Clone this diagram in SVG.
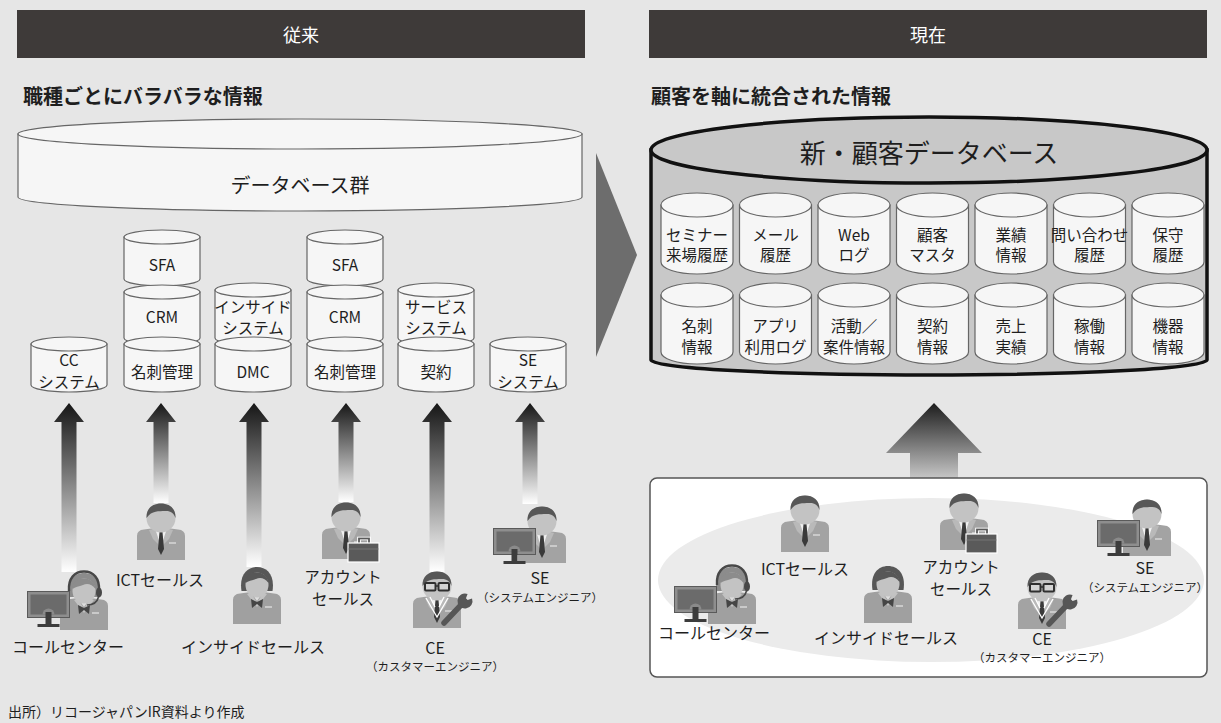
<svg xmlns="http://www.w3.org/2000/svg" width="1221" height="723" viewBox="0 0 1221 723">
  <style>
    text { font-family: "Noto Sans CJK JP", "Noto Sans CJK SC", sans-serif; fill: #1e1e1e; }
    .hdr { font-size: 18px; fill: #ffffff; text-anchor: middle; }
    .sub { font-size: 20px; font-weight: 600; }
    .lbl { font-size: 16px; text-anchor: middle; }
    .lbl2 { font-size: 15.5px; text-anchor: middle; }
    .note { font-size: 11.5px; text-anchor: middle; }
    .ct { font-size: 15.5px; text-anchor: middle; }
    .cyl { fill: #f6f6f6; stroke: #666666; stroke-width: 1.2; }
    .big { fill: #c8c8c8; stroke: #111111; stroke-width: 3.5; }
    .up { fill: url(#fadeUp); }
  </style>
  <defs>
    <linearGradient id="fadeUp" x1="0" y1="0" x2="0" y2="1">
      <stop offset="0" stop-color="#161616"/>
      <stop offset="1" stop-color="#ffffff"/>
    </linearGradient>
    <linearGradient id="bigUp" x1="0" y1="0" x2="0" y2="1">
      <stop offset="0" stop-color="#1c1c1c"/>
      <stop offset="1" stop-color="#c6c6c6"/>
    </linearGradient>

    <!-- businessman: 48 x 57, head top at y=0 -->
    <g id="man">
      <path d="M0,57 V33 Q0,27 7,26.5 L18,25 L24,29 L30,25 L41,26.5 Q48,27 48,33 V57 Z" fill="#a3a3a3"/>
      <polygon points="12,27 18,25.5 24,44 16,36" fill="#b9b9b9"/>
      <polygon points="36,27 30,25.5 24,44 32,36" fill="#b9b9b9"/>
      <polygon points="18,25.5 30,25.5 24,44" fill="#f0f0f0"/>
      <polygon points="22.5,29 25.5,29 27,46 24,52 21,46" fill="#3a3a3a"/>
      <rect x="32" y="39" width="7" height="2" fill="#cacaca"/>
      <circle cx="24" cy="15" r="14.5" fill="#c3c3c3"/>
      <path d="M9.5,15 C9,5 16,0.5 24,0.5 C32,0.5 39,5 38.5,15 C37,10 33,7.5 28,8 C22,8.5 15,7 9.5,15 Z" fill="#575757"/>
    </g>

    <!-- businesswoman: 48 x 57, hair colour from currentColor -->
    <g id="woman">
      <path d="M8.5,24 C6,8 14,0 24,0 C34,0 42,8 39.5,24 Z" fill="currentColor"/>
      <path d="M0,57 V33 Q0,27 7,26.5 L18,25 L24,29 L30,25 L41,26.5 Q48,27 48,33 V57 Z" fill="#a0a0a0"/>
      <polygon points="14,27 18,25.5 24,36 30,25.5 34,27 24,40" fill="#c2c2c2"/>
      <polygon points="18,25.5 30,25.5 24,34" fill="#dedede"/>
      <path d="M18,32 L24,35 L30,32 L29,41 L24,37 L19,41 Z" fill="#454545"/>
      <rect x="32" y="39" width="7" height="2" fill="#cacaca"/>
      <ellipse cx="24" cy="18" rx="11.5" ry="12.5" fill="#c3c3c3"/>
      <path d="M12.5,16 C13,7 19,5 25,5.5 C31,6 35,10 35.5,16 C32,11 27,10 23,12 C19,13.5 15,14 12.5,16 Z" fill="currentColor"/>
    </g>

    <g id="headset" fill="none" stroke="#484848">
      <path d="M9,18 C8,5 15,-1.5 24,-1.5 C33,-1.5 40,5 39,18" stroke-width="2.4"/>
      <ellipse cx="39" cy="19.5" rx="3" ry="5" fill="#484848" stroke="none"/>
      <path d="M38.5,24 C37,30 32,32 27,32" stroke-width="1.6"/>
    </g>

    <g id="glasses" fill="#d4d4d4" stroke="#2f2f2f">
      <rect x="12" y="12" width="10.5" height="7.5" rx="1" stroke-width="2"/>
      <rect x="25.5" y="12" width="10.5" height="7.5" rx="1" stroke-width="2"/>
      <line x1="22.5" y1="15" x2="25.5" y2="15" stroke-width="1.5"/>
    </g>

    <path id="coat" d="M13,27 L24,46 L35,27 M17,26 L22,36 M31,26 L26,36" fill="none" stroke="#ffffff" stroke-width="1.3"/>

    <g id="wrench" fill="#565656">
      <line x1="48" y1="34" x2="31" y2="52" stroke="#565656" stroke-width="5.5" stroke-linecap="round"/>
      <path d="M59.05,27.43 A7.5,7.5 0 1 1 54.57,22.95 L52.96,27.37 L54.63,29.04 Z"/>
    </g>

    <g id="case">
      <rect x="37" y="36.5" width="10" height="6" fill="none" stroke="#ffffff" stroke-width="3.6"/>
      <rect x="37" y="36.5" width="10" height="6" fill="none" stroke="#5a5a5a" stroke-width="1.8"/>
      <rect x="26" y="41" width="31" height="19" fill="#5a5a5a" stroke="#ffffff" stroke-width="1.2"/>
      <line x1="26.6" y1="47" x2="56.4" y2="47" stroke="#747474" stroke-width="1"/>
    </g>

    <!-- desktop monitor: 43 x 36 -->
    <g id="monitor">
      <rect x="0.5" y="0.5" width="42" height="26" fill="#8e8e8e" stroke="#5a5a5a"/>
      <rect x="3.5" y="3.5" width="36" height="20" fill="#6b6b6b"/>
      <path d="M15.5,23.5 A6,6 0 0 1 27.5,23.5 Z" fill="#8a8a8a"/>
      <rect x="18.5" y="21" width="6" height="13" fill="#3c3c3c"/>
      <rect x="10.5" y="33" width="22" height="3" fill="#3c3c3c"/>
    </g>
  </defs>

  <!-- page -->
  <rect x="0" y="0" width="1221" height="723" fill="#e6e6e6"/>

  <!-- section headers -->
  <g id="header-before">
    <rect x="17" y="10" width="568" height="48" fill="#3e3a39"/>
    <text class="hdr" x="301" y="42">従来</text>
  </g>
  <g id="header-now">
    <rect x="649" y="10" width="558" height="48" fill="#3e3a39"/>
    <text class="hdr" x="928" y="42">現在</text>
  </g>
  <text class="sub" x="23" y="104">職種ごとにバラバラな情報</text>
  <text class="sub" x="651" y="104">顧客を軸に統合された情報</text>

  <!-- database group (before) -->
  <g id="db-group">
    <path class="cyl" d="M18,134 V197 A282,14 0 0 0 582,197 V134 Z" stroke="#777"/>
    <ellipse class="cyl" cx="300" cy="134" rx="282" ry="15" stroke="#777"/>
    <text x="300" y="193" font-size="20" text-anchor="middle">データベース群</text>
  </g>

  <!-- per-role databases -->
  <g id="db-cc">
    <path class="cyl" d="M31,344 V385 A38,7 0 0 0 107,385 V344 Z"/>
    <ellipse class="cyl" cx="69" cy="344" rx="38" ry="7"/>
    <text class="ct" x="69" y="366">CC</text>
    <text class="ct" x="69" y="388">システム</text>
  </g>
  <g id="db-ict">
    <path class="cyl" d="M124,237 V279 A38,7 0 0 0 200,279 V237 Z"/>
    <ellipse class="cyl" cx="162" cy="237" rx="38" ry="7"/>
    <text class="ct" x="162" y="271">SFA</text>
    <path class="cyl" d="M124,292 V338 A38,7 0 0 0 200,338 V292 Z"/>
    <ellipse class="cyl" cx="162" cy="292" rx="38" ry="7"/>
    <text class="ct" x="162" y="323">CRM</text>
    <path class="cyl" d="M124,344 V385 A38,7 0 0 0 200,385 V344 Z"/>
    <ellipse class="cyl" cx="162" cy="344" rx="38" ry="7"/>
    <text class="ct" x="162" y="378">名刺管理</text>
  </g>
  <g id="db-inside">
    <path class="cyl" d="M215,290 V338 A38,7 0 0 0 291,338 V290 Z"/>
    <ellipse class="cyl" cx="253" cy="290" rx="38" ry="7"/>
    <text class="ct" x="253" y="313">インサイド</text>
    <text class="ct" x="253" y="334">システム</text>
    <path class="cyl" d="M215,344 V385 A38,7 0 0 0 291,385 V344 Z"/>
    <ellipse class="cyl" cx="253" cy="344" rx="38" ry="7"/>
    <text class="ct" x="253" y="378">DMC</text>
  </g>
  <g id="db-account">
    <path class="cyl" d="M307,237 V279 A38,7 0 0 0 383,279 V237 Z"/>
    <ellipse class="cyl" cx="345" cy="237" rx="38" ry="7"/>
    <text class="ct" x="345" y="271">SFA</text>
    <path class="cyl" d="M307,292 V338 A38,7 0 0 0 383,338 V292 Z"/>
    <ellipse class="cyl" cx="345" cy="292" rx="38" ry="7"/>
    <text class="ct" x="345" y="323">CRM</text>
    <path class="cyl" d="M307,344 V385 A38,7 0 0 0 383,385 V344 Z"/>
    <ellipse class="cyl" cx="345" cy="344" rx="38" ry="7"/>
    <text class="ct" x="345" y="378">名刺管理</text>
  </g>
  <g id="db-ce">
    <path class="cyl" d="M398,290 V338 A38,7 0 0 0 474,338 V290 Z"/>
    <ellipse class="cyl" cx="436" cy="290" rx="38" ry="7"/>
    <text class="ct" x="436" y="313">サービス</text>
    <text class="ct" x="436" y="334">システム</text>
    <path class="cyl" d="M398,344 V385 A38,7 0 0 0 474,385 V344 Z"/>
    <ellipse class="cyl" cx="436" cy="344" rx="38" ry="7"/>
    <text class="ct" x="436" y="378">契約</text>
  </g>
  <g id="db-se">
    <path class="cyl" d="M490,344 V385 A38,7 0 0 0 566,385 V344 Z"/>
    <ellipse class="cyl" cx="528" cy="344" rx="38" ry="7"/>
    <text class="ct" x="528" y="366">SE</text>
    <text class="ct" x="528" y="388">システム</text>
  </g>

  <!-- upward flows from each role -->
  <g id="connectors">
    <polygon class="up" points="69,403 84,422 76.5,422 76.5,572 61.5,572 61.5,422 54,422"/>
    <polygon class="up" points="161,403 176,422 168.5,422 168.5,503 153.5,503 153.5,422 146,422"/>
    <polygon class="up" points="254,403 269,422 261.5,422 261.5,567 246.5,567 246.5,422 239,422"/>
    <polygon class="up" points="346,403 361,422 353.5,422 353.5,502 338.5,502 338.5,422 331,422"/>
    <polygon class="up" points="437,403 452,422 444.5,422 444.5,572 429.5,572 429.5,422 422,422"/>
    <polygon class="up" points="530,403 545,422 537.5,422 537.5,504 522.5,504 522.5,422 515,422"/>
    <polygon points="934,403 982,453 958,453 958,478 910,478 910,453 886,453" fill="url(#bigUp)"/>
    <polygon points="596,153 637,255 596,357" fill="#6d6d6d"/>
  </g>

  <!-- roles (before) -->
  <g id="role-cc-before">
    <use href="#woman" x="60" y="573" color="#8c8c8c"/>
    <use href="#headset" x="60" y="573"/>
    <use href="#monitor" x="27" y="591"/>
    <text class="lbl" x="68" y="653">コールセンター</text>
  </g>
  <g id="role-ict-before">
    <use href="#man" x="137" y="503"/>
    <text class="lbl" x="160" y="586">ICTセールス</text>
  </g>
  <g id="role-inside-before">
    <use href="#woman" x="233" y="567" color="#575757"/>
    <text class="lbl" x="253" y="653">インサイドセールス</text>
  </g>
  <g id="role-account-before">
    <use href="#man" x="322" y="502"/>
    <use href="#case" x="322" y="502"/>
    <text class="lbl2" x="343" y="583">アカウント</text>
    <text class="lbl2" x="343" y="605">セールス</text>
  </g>
  <g id="role-ce-before">
    <use href="#man" x="413" y="571"/>
    <use href="#coat" x="413" y="571"/>
    <use href="#glasses" x="413" y="571"/>
    <use href="#wrench" x="413" y="571"/>
    <text class="lbl" x="435" y="654">CE</text>
    <text class="note" x="435" y="671">（カスタマーエンジニア）</text>
  </g>
  <g id="role-se-before">
    <use href="#man" x="518" y="506"/>
    <use href="#monitor" x="493" y="528"/>
    <text class="lbl" x="540" y="584">SE</text>
    <text class="note" x="540" y="602">（システムエンジニア）</text>
  </g>

  <!-- new customer database -->
  <g id="customer-db">
    <path class="big" d="M651,150 V360 A278,15 0 0 0 1207,360 V150 Z"/>
    <ellipse class="big" cx="929" cy="150" rx="278" ry="33" fill="#cbcbcb"/>
    <text x="929" y="163" font-size="26" text-anchor="middle">新・顧客データベース</text>
  </g>
  <g id="customer-db-tables">
    <g id="t-seminar">
      <path class="cyl" d="M661,205 V262 A36,12 0 0 0 733,262 V205 Z"/>
      <ellipse class="cyl" cx="697" cy="205" rx="36" ry="12"/>
      <text class="ct" x="697" y="241">セミナー</text>
      <text class="ct" x="697" y="261">来場履歴</text>
    </g>
    <g id="t-mail">
      <path class="cyl" d="M739.5,205 V262 A36,12 0 0 0 811.5,262 V205 Z"/>
      <ellipse class="cyl" cx="775.5" cy="205" rx="36" ry="12"/>
      <text class="ct" x="775.5" y="241">メール</text>
      <text class="ct" x="775.5" y="261">履歴</text>
    </g>
    <g id="t-web">
      <path class="cyl" d="M818,205 V262 A36,12 0 0 0 890,262 V205 Z"/>
      <ellipse class="cyl" cx="854" cy="205" rx="36" ry="12"/>
      <text class="ct" x="854" y="241">Web</text>
      <text class="ct" x="854" y="261">ログ</text>
    </g>
    <g id="t-master">
      <path class="cyl" d="M896.5,205 V262 A36,12 0 0 0 968.5,262 V205 Z"/>
      <ellipse class="cyl" cx="932.5" cy="205" rx="36" ry="12"/>
      <text class="ct" x="932.5" y="241">顧客</text>
      <text class="ct" x="932.5" y="261">マスタ</text>
    </g>
    <g id="t-results">
      <path class="cyl" d="M975,205 V262 A36,12 0 0 0 1047,262 V205 Z"/>
      <ellipse class="cyl" cx="1011" cy="205" rx="36" ry="12"/>
      <text class="ct" x="1011" y="241">業績</text>
      <text class="ct" x="1011" y="261">情報</text>
    </g>
    <g id="t-inquiry">
      <path class="cyl" d="M1053.5,205 V262 A36,12 0 0 0 1125.5,262 V205 Z"/>
      <ellipse class="cyl" cx="1089.5" cy="205" rx="36" ry="12"/>
      <text class="ct" x="1089.5" y="241">問い合わせ</text>
      <text class="ct" x="1089.5" y="261">履歴</text>
    </g>
    <g id="t-maint">
      <path class="cyl" d="M1132,205 V262 A36,12 0 0 0 1204,262 V205 Z"/>
      <ellipse class="cyl" cx="1168" cy="205" rx="36" ry="12"/>
      <text class="ct" x="1168" y="241">保守</text>
      <text class="ct" x="1168" y="261">履歴</text>
    </g>
    <g id="t-card">
      <path class="cyl" d="M661,295 V352 A36,12 0 0 0 733,352 V295 Z"/>
      <ellipse class="cyl" cx="697" cy="295" rx="36" ry="12"/>
      <text class="ct" x="697" y="332">名刺</text>
      <text class="ct" x="697" y="353">情報</text>
    </g>
    <g id="t-app">
      <path class="cyl" d="M739.5,295 V352 A36,12 0 0 0 811.5,352 V295 Z"/>
      <ellipse class="cyl" cx="775.5" cy="295" rx="36" ry="12"/>
      <text class="ct" x="775.5" y="332">アプリ</text>
      <text class="ct" x="775.5" y="353">利用ログ</text>
    </g>
    <g id="t-activity">
      <path class="cyl" d="M818,295 V352 A36,12 0 0 0 890,352 V295 Z"/>
      <ellipse class="cyl" cx="854" cy="295" rx="36" ry="12"/>
      <text class="ct" x="854" y="332">活動／</text>
      <text class="ct" x="854" y="353">案件情報</text>
    </g>
    <g id="t-contract">
      <path class="cyl" d="M896.5,295 V352 A36,12 0 0 0 968.5,352 V295 Z"/>
      <ellipse class="cyl" cx="932.5" cy="295" rx="36" ry="12"/>
      <text class="ct" x="932.5" y="332">契約</text>
      <text class="ct" x="932.5" y="353">情報</text>
    </g>
    <g id="t-sales">
      <path class="cyl" d="M975,295 V352 A36,12 0 0 0 1047,352 V295 Z"/>
      <ellipse class="cyl" cx="1011" cy="295" rx="36" ry="12"/>
      <text class="ct" x="1011" y="332">売上</text>
      <text class="ct" x="1011" y="353">実績</text>
    </g>
    <g id="t-operation">
      <path class="cyl" d="M1053.5,295 V352 A36,12 0 0 0 1125.5,352 V295 Z"/>
      <ellipse class="cyl" cx="1089.5" cy="295" rx="36" ry="12"/>
      <text class="ct" x="1089.5" y="332">稼働</text>
      <text class="ct" x="1089.5" y="353">情報</text>
    </g>
    <g id="t-device">
      <path class="cyl" d="M1132,295 V352 A36,12 0 0 0 1204,352 V295 Z"/>
      <ellipse class="cyl" cx="1168" cy="295" rx="36" ry="12"/>
      <text class="ct" x="1168" y="332">機器</text>
      <text class="ct" x="1168" y="353">情報</text>
    </g>
  </g>

  <!-- unified team -->
  <g id="team">
    <rect x="650" y="478" width="557" height="199" rx="7" fill="#ffffff" stroke="#555555" stroke-width="1.5"/>
    <ellipse cx="931" cy="580" rx="273" ry="82" fill="#ebebeb"/>
  </g>
  <g id="role-cc-now">
    <use href="#woman" x="708" y="567" color="#8c8c8c"/>
    <use href="#headset" x="708" y="567"/>
    <use href="#monitor" x="674" y="586"/>
    <text class="lbl" x="714" y="639">コールセンター</text>
  </g>
  <g id="role-ict-now">
    <use href="#man" x="781" y="495"/>
    <text class="lbl" x="805" y="575">ICTセールス</text>
  </g>
  <g id="role-inside-now">
    <use href="#woman" x="864" y="566" color="#575757"/>
    <text class="lbl" x="886" y="644">インサイドセールス</text>
  </g>
  <g id="role-account-now">
    <use href="#man" x="940" y="493"/>
    <use href="#case" x="940" y="493"/>
    <text class="lbl2" x="961" y="573">アカウント</text>
    <text class="lbl2" x="961" y="595">セールス</text>
  </g>
  <g id="role-ce-now">
    <use href="#man" x="1018" y="572"/>
    <use href="#coat" x="1018" y="572"/>
    <use href="#glasses" x="1018" y="572"/>
    <use href="#wrench" x="1018" y="572"/>
    <text class="lbl" x="1042" y="645">CE</text>
    <text class="note" x="1042" y="662">（カスタマーエンジニア）</text>
  </g>
  <g id="role-se-now">
    <use href="#man" x="1123" y="499"/>
    <use href="#monitor" x="1097" y="520"/>
    <text class="lbl" x="1145" y="574">SE</text>
    <text class="note" x="1145" y="592">（システムエンジニア）</text>
  </g>

  <text x="8" y="717" font-size="14" fill="#444444">出所）リコージャパンIR資料より作成</text>
</svg>
